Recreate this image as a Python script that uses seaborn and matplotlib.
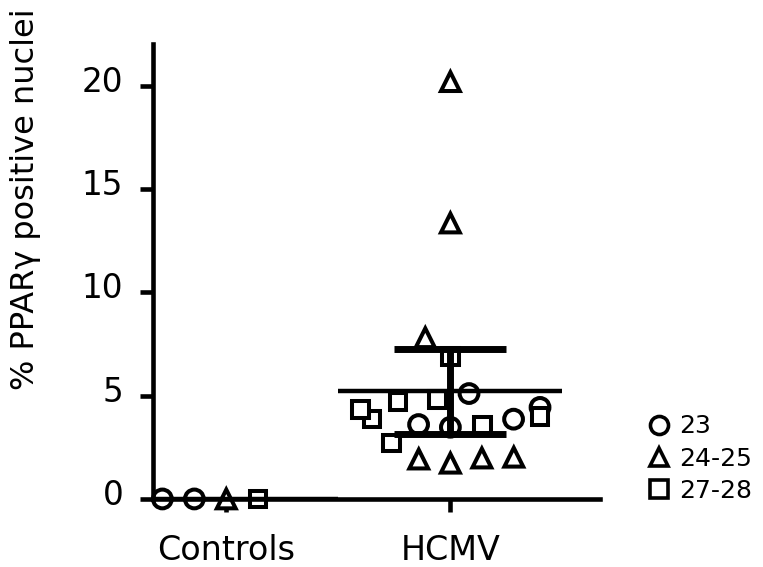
import numpy as np
import pandas as pd
import matplotlib
matplotlib.use("Agg")
import matplotlib.pyplot as plt
from matplotlib.markers import MarkerStyle
from matplotlib.lines import Line2D
from matplotlib.transforms import Affine2D, ScaledTranslation
import seaborn as sns

# ---- data ----
groups = ["Controls", "HCMV"]
age_labels = ["23", "24-25", "27-28"]

controls_age = ["24-25", "23", "27-28", "23"]
controls_value = [0.0, 0.0, 0.0, 0.0]

hcmv_age = (["23"] * 5) + (["24-25"] * 7) + (["27-28"] * 8)
hcmv_value = [4.43, 3.86, 5.10, 3.47, 3.60,
              20.19, 13.35, 7.80, 1.98, 1.73, 1.93, 2.02,
              4.00, 2.70, 3.57, 4.82, 6.89, 3.86, 4.34, 4.72]

yticks = [0, 5, 10, 15, 20]
t_crit_df19 = 2.093  # two-sided 95% CI, df = 19

df = pd.concat([
    pd.DataFrame({"group": "Controls", "age": controls_age, "value": controls_value}),
    pd.DataFrame({"group": "HCMV", "age": hcmv_age, "value": hcmv_value}),
], ignore_index=True)

marker_map = {"23": "o", "24-25": "^", "27-28": "s"}
marker_scale = {"23": 1.0, "24-25": 1.0, "27-28": 0.88}

sns.set_style("ticks", rc={"text.color": "black", "axes.labelcolor": "black",
                           "xtick.color": "black", "ytick.color": "black",
                           "axes.edgecolor": "black"})
plt.rcParams["font.family"] = ["DejaVu Sans"]

fig = plt.figure(figsize=(7.63, 5.67), dpi=100)
ax = fig.add_axes([0.2005, 0.12, 0.586, 0.802])

SWARM_SIZE = 19.0   # spacing used by the swarm layout
VIS_SIZE = 13.5     # visible marker size
EDGE = 2.9
sns.swarmplot(data=df, x="group", y="value", hue="age", order=groups,
              hue_order=age_labels,
              palette={a: "white" for a in age_labels},
              edgecolor="black", linewidth=EDGE, size=SWARM_SIZE, ax=ax,
              legend=False, warn_thresh=1.0, zorder=2)

# give each point its own marker shape (seaborn keeps the row order)
shrink = VIS_SIZE / SWARM_SIZE
for coll, g in zip(ax.collections, groups):
    sub = df[df["group"] == g]
    paths = []
    for a in sub["age"]:
        m = MarkerStyle(marker_map[a])
        tr = m.get_transform() + Affine2D().scale(shrink * marker_scale[a])
        paths.append(m.get_path().transformed(tr))
    coll.set_paths(paths)
    coll.set_facecolor("white")
    coll.set_edgecolor("black")
    coll.set_linewidth(EDGE)
    coll.set_joinstyle("miter")
    coll.set_clip_on(False)

# mean with 95% CI
for i, g in enumerate(groups):
    vals = df.loc[df["group"] == g, "value"].to_numpy()
    mean = vals.mean()
    sem = vals.std(ddof=1) / np.sqrt(len(vals))
    ci = t_crit_df19 * sem
    ax.hlines(mean, i - 0.5, i + 0.5, color="black", lw=3.2, zorder=2.2)
    if ci > 0:
        ax.vlines(i, mean - ci, mean + ci, color="black", lw=5.0, zorder=2.2)
        ax.hlines([mean - ci, mean + ci], i - 0.25, i + 0.25, color="black",
                  lw=5.0, zorder=2.2)

ax.set_xlim(-0.327, 1.668)
ax.set_ylim(0, 22)
ax.set_yticks(yticks)
ax.set_yticklabels([str(t) for t in yticks])
ax.set_xlabel("")
ax.set_ylabel("% PPARγ positive nuclei", fontsize=23)
ax.yaxis.set_label_coords(-0.25, 0.659)

for s in ["top", "right"]:
    ax.spines[s].set_visible(False)
for s in ["left", "bottom"]:
    ax.spines[s].set_linewidth(3.3)
    ax.spines[s].set_zorder(2.5)
ax.tick_params(axis="both", width=3.3, length=9.4, color="black")
ax.tick_params(axis="y", pad=12, labelsize=23.5)
ax.tick_params(axis="x", pad=16, labelsize=24)

shift_up = ScaledTranslation(0, 5 / 72, fig.dpi_scale_trans)
for lbl in ax.get_yticklabels():
    lbl.set_transform(lbl.get_transform() + shift_up)

handles = [Line2D([], [], linestyle="none", marker=marker_map[a], markersize=13,
                  markerfacecolor="white", markeredgecolor="black",
                  markeredgewidth=2.6, label=a) for a in age_labels]
fig.legend(handles=handles, loc="upper left", bbox_to_anchor=(0.834, 0.287),
           frameon=False, fontsize=18, handletextpad=0.3, labelspacing=0.33,
           handlelength=1.0, borderaxespad=0)

fig.savefig("out.png", dpi=100)
